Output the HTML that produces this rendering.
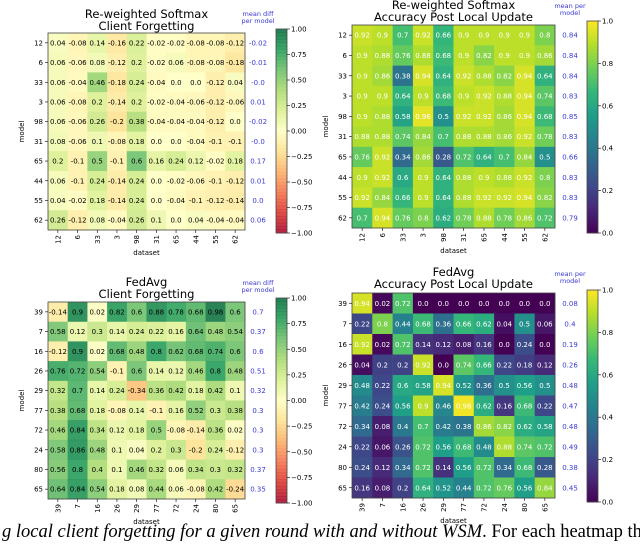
<!DOCTYPE html>
<html><head><meta charset="utf-8">
<style>
body{margin:0;background:#fff;width:640px;height:544px;overflow:hidden}
svg{display:block}
text{font-family:"DejaVu Sans","Liberation Sans",sans-serif}
.cap{font-family:"Liberation Serif",serif;font-style:italic;font-size:18.5px}
</style></head><body>
<svg id="fig" width="640" height="544" xmlns="http://www.w3.org/2000/svg">
<text class="cap" x="2" y="537">g local client forgetting for a given round with and without <tspan>WSM</tspan><tspan font-style="normal">. For each heatmap the</tspan></text>
</svg>
<script>
const tlModels=["12","6","33","3","98","31","65","44","55","62"];
const tlValues=[
[0.04,-0.08,0.14,-0.16,0.22,-0.02,-0.02,-0.08,-0.08,-0.12],
[0.06,-0.06,0.08,-0.12,0.2,-0.02,0.06,-0.08,-0.08,-0.18],
[0.06,-0.04,0.46,-0.18,0.24,-0.04,0.0,0.0,-0.12,0.04],
[0.06,-0.08,0.2,-0.14,0.2,-0.02,-0.04,-0.06,-0.12,-0.06],
[0.06,-0.06,0.26,-0.2,0.38,-0.04,-0.04,-0.04,-0.12,0.0],
[0.08,-0.06,0.1,-0.08,0.18,0.0,0.0,-0.04,-0.1,-0.1],
[0.2,-0.1,0.5,-0.1,0.6,0.16,0.24,0.12,-0.02,0.18],
[0.06,-0.1,0.24,-0.14,0.24,0.0,-0.02,-0.06,-0.1,-0.12],
[0.04,-0.02,0.18,-0.14,0.24,0.0,-0.04,-0.1,-0.12,-0.14],
[0.26,-0.12,0.08,-0.04,0.26,0.1,0.0,0.04,-0.04,-0.04]];
const tlMeans=["-0.02","-0.01","-0.0","0.01","-0.02","-0.0","0.17","0.01","0.0","0.06"];
const trValues=[
[0.92,0.9,0.7,0.92,0.66,0.9,0.9,0.9,0.9,0.8],
[0.9,0.88,0.76,0.88,0.68,0.9,0.82,0.9,0.9,0.86],
[0.9,0.86,0.38,0.94,0.64,0.92,0.88,0.82,0.94,0.64],
[0.9,0.9,0.64,0.9,0.68,0.9,0.92,0.88,0.94,0.74],
[0.9,0.88,0.58,0.96,0.5,0.92,0.92,0.86,0.94,0.68],
[0.88,0.88,0.74,0.84,0.7,0.88,0.88,0.86,0.92,0.78],
[0.76,0.92,0.34,0.86,0.28,0.72,0.64,0.7,0.84,0.5],
[0.9,0.92,0.6,0.9,0.64,0.88,0.9,0.88,0.92,0.8],
[0.92,0.84,0.66,0.9,0.64,0.88,0.92,0.92,0.94,0.82],
[0.7,0.94,0.76,0.8,0.62,0.78,0.88,0.78,0.86,0.72]];
const trMeans=["0.84","0.84","0.84","0.83","0.85","0.83","0.66","0.83","0.83","0.79"];
const blModels=["39","7","16","26","29","77","72","24","80","65"];
const blValues=[
[-0.14,0.9,0.02,0.82,0.6,0.88,0.78,0.68,0.98,0.6],
[0.58,0.12,0.3,0.14,0.24,0.22,0.16,0.64,0.48,0.54],
[-0.12,0.9,0.02,0.68,0.48,0.8,0.62,0.68,0.74,0.6],
[0.76,0.72,0.54,-0.1,0.6,0.14,0.12,0.46,0.8,0.48],
[0.32,0.7,0.14,0.24,-0.34,0.36,0.42,0.18,0.42,0.1],
[0.38,0.68,0.18,-0.08,0.14,-0.1,0.16,0.52,0.3,0.38],
[0.46,0.84,0.34,0.12,0.18,0.5,-0.08,-0.14,0.36,0.02],
[0.58,0.86,0.48,0.1,0.04,0.2,0.3,-0.2,0.24,-0.12],
[0.56,0.8,0.4,0.1,0.46,0.32,0.06,0.34,0.3,0.32],
[0.64,0.84,0.54,0.18,0.08,0.44,0.06,-0.08,0.42,-0.24]];
const blMeans=["0.7","0.37","0.6","0.51","0.32","0.3","0.3","0.3","0.37","0.35"];
const brValues=[
[0.94,0.02,0.72,0.0,0.0,0.0,0.0,0.0,0.0,0.0],
[0.22,0.8,0.44,0.68,0.36,0.66,0.62,0.04,0.5,0.06],
[0.92,0.02,0.72,0.14,0.12,0.08,0.16,0.0,0.24,0.0],
[0.04,0.2,0.2,0.92,0.0,0.74,0.66,0.22,0.18,0.12],
[0.48,0.22,0.6,0.58,0.94,0.52,0.36,0.5,0.56,0.5],
[0.42,0.24,0.56,0.9,0.46,0.98,0.62,0.16,0.68,0.22],
[0.34,0.08,0.4,0.7,0.42,0.38,0.86,0.82,0.62,0.58],
[0.22,0.06,0.26,0.72,0.56,0.68,0.48,0.88,0.74,0.72],
[0.24,0.12,0.34,0.72,0.14,0.56,0.72,0.34,0.68,0.28],
[0.16,0.08,0.2,0.64,0.52,0.44,0.72,0.76,0.56,0.84]];
const brMeans=["0.08","0.4","0.19","0.26","0.48","0.47","0.48","0.49","0.38","0.45"];
const rdTicks=["1.00","0.75","0.50","0.25","0.00","−0.25","−0.50","−0.75","−1.00"];
const vTicks=["1.0","0.8","0.6","0.4","0.2","0.0"];

const RDYLGN=["#a50026","#d73027","#f46d43","#fdae61","#fee08b","#ffffbf","#d9ef8b","#a6d96a","#66bd63","#1a9850","#006837"];
const VIR=["#440154","#482878","#3e4989","#31688e","#26828e","#1f9e89","#35b779","#6ece58","#b5de2b","#fde725"];
function hx(h){return [1,3,5].map(i=>parseInt(h.substr(i,2),16));}
function cmap(stops,t){t=Math.max(0,Math.min(1,t));const n=stops.length-1;const i=Math.min(n-1,Math.floor(t*n));const f=t*n-i;const a=hx(stops[i]),b=hx(stops[i+1]);return "rgb("+a.map((v,k)=>Math.round(v+(b[k]-v)*f)).join(",")+")";}
const NS="http://www.w3.org/2000/svg";
const svg=document.getElementById("fig");
function el(tag,attrs,parent,txt){const e=document.createElementNS(NS,tag);for(const k in attrs)e.setAttribute(k,attrs[k]);if(txt!==undefined)e.textContent=txt;(parent||svg).appendChild(e);return e;}

function heatmap(o){
  const g=el("g",{});
  
  
  const n=o.values.length, cw=(o.x1-o.x0)/n, ch=(o.y1-o.y0)/n;
  const xs=i=>o.x0+i*cw, ys=j=>o.y0+j*ch;
  const t1=el("text",{x:(o.x0+o.x1)/2,y:o.titleY,"font-size":11.5,"text-anchor":"middle"},g,o.title1);
  
  
  const t2=el("text",{x:(o.x0+o.x1)/2,y:o.titleY+12,"font-size":11.5,"text-anchor":"middle"},g,o.title2);
  
  
  for(let j=0;j<n;j++)for(let i=0;i<n;i++){
    const v=o.values[j][i];
    const r=el("rect",{x:xs(i),y:ys(j),width:cw+0.3,height:ch+0.3,fill:cmap(o.stops,(v-o.vmin)/(o.vmax-o.vmin)),"fill-opacity":o.alpha},g);
    
    
    const t=el("text",{x:xs(i)+cw/2,y:ys(j)+ch/2+2.5,"font-size":7,"text-anchor":"middle",fill:o.txt},g,String(v===0?"0.0":v));
    
    
  }
  const fr=el("rect",{x:o.x0,y:o.y0,width:o.x1-o.x0,height:o.y1-o.y0,fill:"none",stroke:"#444","stroke-width":0.8},g);
  
  
  for(let k=0;k<n;k++){
    const yl=el("text",{x:o.x0-5,y:ys(k)+ch/2+2.5,"font-size":7,"text-anchor":"end"},g,o.labels[k]);
    
    
    el("line",{x1:o.x0-3,x2:o.x0,y1:ys(k)+ch/2,y2:ys(k)+ch/2,stroke:"#000","stroke-width":0.6},g);
    const cx=xs(k)+cw/2;
    el("line",{x1:cx,x2:cx,y1:o.y1,y2:o.y1+3,stroke:"#000","stroke-width":0.6},g);
    const xl=el("text",{x:0,y:0,"font-size":7,"text-anchor":"end",transform:`translate(${cx+2.5},${o.y1+5}) rotate(-90)`},g,o.labels[k]);
    
    
    const m=el("text",{x:o.mx,y:ys(k)+ch/2+2.5,"font-size":7,"text-anchor":"middle",fill:"#3a3ad0"},g,o.means[k]);
    
    
  }
  const xa=el("text",{x:(o.x0+o.x1)/2,y:o.y1+25,"font-size":7,"text-anchor":"middle"},g,"dataset");
  
  
  const cy=(o.y0+o.y1)/2;
  const ya=el("text",{x:0,y:0,"font-size":7,"text-anchor":"middle",transform:`translate(${o.x0-24},${cy}) rotate(-90)`},g,"model");
  
  
  const h1=el("text",{x:o.mx,y:o.y0-17,"font-size":6.5,"text-anchor":"middle",fill:"#3a3ad0"},g,o.mh1);
  
  
  el("text",{x:o.mx,y:o.y0-10,"font-size":6.5,"text-anchor":"middle",fill:"#3a3ad0"},g,o.mh2);
  const steps=60, bh=(o.cy1-o.cy0)/steps;
  for(let s=0;s<steps;s++){
    el("rect",{x:o.cx0,y:o.cy0+s*bh,width:11,height:bh+0.4,fill:cmap(o.stops,1-(s+0.5)/steps),"fill-opacity":o.alpha},g);
  }
  const cb=el("rect",{x:o.cx0,y:o.cy0,width:11,height:o.cy1-o.cy0,fill:"none",stroke:"#444","stroke-width":0.8},g);
  
  
  const nt=o.ticks.length;
  o.ticks.forEach((t,k)=>{
    const y=o.cy0+k*(o.cy1-o.cy0)/(nt-1);
    el("line",{x1:o.cx0+11,x2:o.cx0+14,y1:y,y2:y,stroke:"#000","stroke-width":0.6},g);
    const tt=el("text",{x:o.cx0+15,y:y+2.5,"font-size":7},g,t);
    
    
  });
}
heatmap({name:"heatmap-rws-forgetting",values:tlValues,labels:tlModels,means:tlMeans,stops:RDYLGN,vmin:-1,vmax:1,alpha:0.85,txt:"#000",
 x0:48,x1:245,y0:33,y1:230,mx:258,cx0:276,cy0:29,cy1:233,ticks:rdTicks,title1:"Re-weighted Softmax",title2:"Client Forgetting",titleY:18,mh1:"mean diff",mh2:"per model"});
heatmap({name:"heatmap-rws-accuracy",values:trValues,labels:tlModels,means:trMeans,stops:VIR,vmin:0,vmax:1,alpha:1,txt:"#fff",
 x0:352,x1:555,y0:25,y1:228,mx:570,cx0:587,cy0:21,cy1:233,ticks:vTicks,title1:"Re-weighted Softmax",title2:"Accuracy Post Local Update",titleY:9,mh1:"mean per",mh2:"model"});
heatmap({name:"heatmap-fedavg-forgetting",values:blValues,labels:blModels,means:blMeans,stops:RDYLGN,vmin:-1,vmax:1,alpha:0.85,txt:"#000",
 x0:48,x1:245,y0:302,y1:499,mx:258,cx0:276,cy0:298,cy1:503,ticks:rdTicks,title1:"FedAvg",title2:"Client Forgetting",titleY:286,mh1:"mean diff",mh2:"per model"});
heatmap({name:"heatmap-fedavg-accuracy",values:brValues,labels:blModels,means:brMeans,stops:VIR,vmin:0,vmax:1,alpha:1,txt:"#fff",
 x0:352,x1:555,y0:293,y1:498,mx:570,cx0:587,cy0:290,cy1:502,ticks:vTicks,title1:"FedAvg",title2:"Accuracy Post Local Update",titleY:276,mh1:"mean per",mh2:"model"});
</script>
</body></html>
